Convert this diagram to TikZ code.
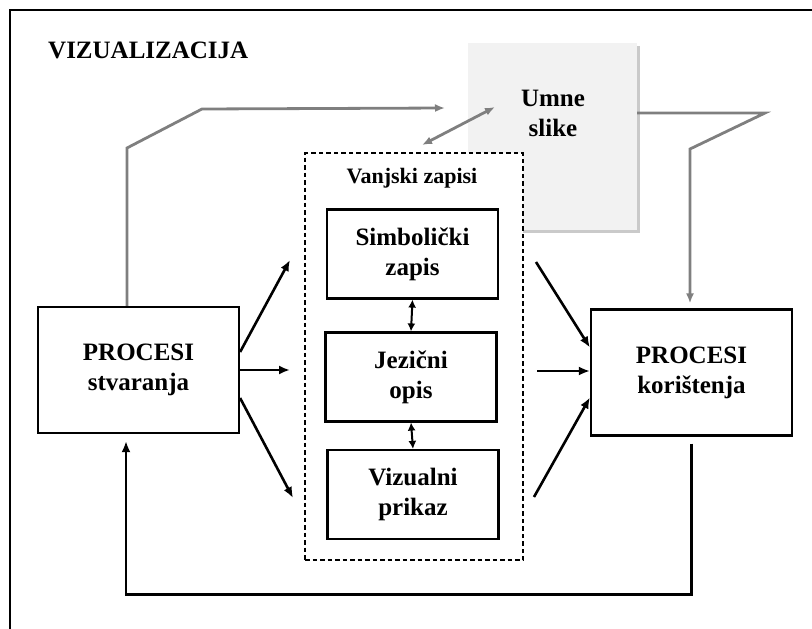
\documentclass[tikz,border=0pt]{standalone}
\usepackage{fontspec}
\setmainfont{Liberation Serif}
\usepackage{tikz}
\usetikzlibrary{arrows.meta,positioning,shadows}
\definecolor{LinkGray}  {HTML}{7F7F7F}
\definecolor{UmneFill}  {HTML}{F2F2F2}
\definecolor{ShadowGray}{HTML}{A6A6A6}
\newcommand{\bigBold}{\fontsize{25}{30}\selectfont\bfseries}
\tikzset{
  procBox/.style={draw,line width=2.2pt,fill=white,minimum width=201pt,
                  minimum height=126pt,align=center,font=\bigBold},
  innerBox/.style={draw,line width=2.2pt,fill=white,minimum width=171pt,
                   minimum height=89pt,align=center,font=\bigBold},
  dashBox/.style={draw,dash pattern=on 4.5pt off 3pt,line width=1.6pt,fill=white,
                  minimum width=218pt,minimum height=407pt},
  umneBox/.style={fill=UmneFill,minimum width=169pt,minimum height=187pt,
                  drop shadow={shadow xshift=2.5pt,shadow yshift=-2.5pt,
                               fill=ShadowGray,opacity=0.6}},
  blkArrow/.style={line width=2.6pt,-{Latex[length=11pt,width=9pt]}},
  dblArrow/.style={line width=2pt,{Latex[length=8pt,width=8pt]}-{Latex[length=8pt,width=8pt]}},
  grayArrow/.style={LinkGray,line width=2.8pt,-{Latex[length=10pt,width=8pt]}},
}

\begin{document}
\begin{tikzpicture}[x=1pt,y=-1pt]
    \useasboundingbox (0,0) rectangle (812,629);
    % frame
    \draw[line width=1.6pt] (10,629) -- (10,10) -- (812,10);
    \node[anchor=west,font=\bigBold,inner sep=0pt] (title) at (48,50) {VIZUALIZACIJA};

    % mental images
    \node[umneBox] (umne) at (552.5,136.5) {};
    \node[font=\bigBold,align=center] (umneText) at (553,113) {Umne\\slike};

    % external records
    \node[dashBox] (vanjski) at (414,356.5) {};
    \node[font=\fontsize{22}{26}\selectfont\bfseries] (vanjskiText) at (412,178) {Vanjski zapisi};
    \node[innerBox] (simbolicki) at (412.5,254) {Simbolički\\zapis};
    \node[innerBox] (jezicni) at (411,377) {Jezični\\opis};
    \node[innerBox] (vizualni) at (413,494.5) {Vizualni\\prikaz};
    \draw[dblArrow] (simbolicki.south) -- (jezicni.north);
    \draw[dblArrow] (jezicni.south) -- (vizualni.north);

    % processes
    \node[procBox] (stvaranja) at (138.5,370) {PROCESI\\stvaranja};
    \node[procBox] (koristenja) at (691.5,372.5) {PROCESI\\korištenja};

    \coordinate (inA) at (290,260);
    \coordinate (inB) at (290,370);
    \coordinate (inC) at (293,498);
    \coordinate (outA) at (536,262);
    \coordinate (outB) at (537,371);
    \coordinate (outC) at (534,497);
    \draw[blkArrow] ([yshift=18pt]stvaranja.east) -- (inA);
    \draw[blkArrow] (stvaranja.east) -- (inB);
    \draw[blkArrow] ([yshift=-28pt]stvaranja.east) -- (inC);
    \draw[blkArrow] (outA) -- ([yshift=25pt]koristenja.west);
    \draw[blkArrow] (outB) -- (koristenja.west |- outB);
    \draw[blkArrow] (outC) -- ([yshift=-25pt]koristenja.west);

    % gray links
    \coordinate (umneIn) at (445,108);
    \coordinate (dblA) at (422,145);
    \coordinate (dblB) at (495,107);
    \draw[grayArrow] ([xshift=-11.5pt]stvaranja.north) -- (127,148) -- (202,109) -- (umneIn);
    \draw[grayArrow,{Latex[length=10pt,width=8pt]}-{Latex[length=10pt,width=8pt]}] (dblA) -- (dblB);
    \draw[grayArrow,shorten >=5pt] (umne.east |- 0,113) -- (765,113) -- (690,149)
        -- (koristenja.north -| 690,0);

    % feedback loop
    \draw[blkArrow,shorten >=7pt] ([yshift=-7pt]koristenja.south) -- ++(0,151)
        -| ([xshift=-12.5pt]stvaranja.south);
\end{tikzpicture}
\end{document}
